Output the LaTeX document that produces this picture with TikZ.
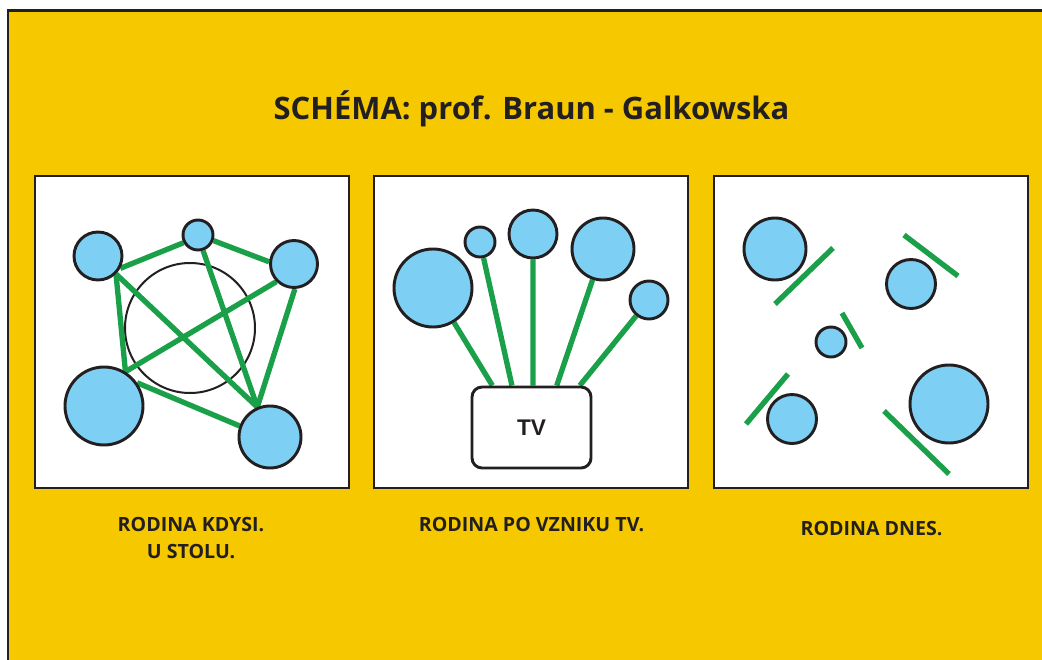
\documentclass[tikz,border=0pt]{standalone}
\usepackage{fontspec}
\setmainfont{Open Sans}
\newfontfamily\arialfont{Liberation Sans}
\definecolor{frameyellow}{HTML}{F5C800}
\definecolor{ballblue}{HTML}{7DD0F4}
\definecolor{linkgreen}{HTML}{1BA04A}
\definecolor{inkdark}{HTML}{231F20}
\pgfdeclarelayer{back}
\pgfdeclarelayer{links}
\pgfsetlayers{back,links,main}
\tikzset{
  ball/.style={circle, draw=inkdark, line width=2.2pt, fill=ballblue, inner sep=0pt, minimum size=#1*1.5pt},
  panel/.style={draw=inkdark, fill=white, line width=2.2pt, inner sep=0pt, minimum width=235.5pt, minimum height=234pt},
  link/.style={draw=linkgreen, line width=4pt},
  caption/.style={font=\bfseries\fontsize{14.7}{20.25}\selectfont, text=inkdark, align=center, inner sep=0pt},
}
\begin{document}
\begin{tikzpicture}[x=0.75pt,y=-0.75pt]
\useasboundingbox (0,0) rectangle (1042,660);
\begin{pgfonlayer}{back}
  \fill[white] (0,0) rectangle (1042,660);
  \draw[fill=frameyellow, draw=inkdark, line width=2.2pt] (8,10.5) rectangle (1060,680);
  \node[panel] (p1) at (192,332) {};
  \node[panel] (p2) at (531,332) {};
  \node[panel] (p3) at (871,332) {};
  \node[circle, draw=inkdark, line width=1.5pt, inner sep=0pt, minimum size=97.5pt] (table) at (190,328) {};
\end{pgfonlayer}

\node[font=\bfseries\fontsize{23.2}{26}\selectfont, text=inkdark, anchor=base, inner sep=0pt] (title) at (531.5,119) {SCHÉMA: prof. Braun - Galkowska};

% panel 1: family at the table
\node[ball=24] (tl) at (98,256) {};
\node[ball=15] (tm) at (198,235) {};
\node[ball=23.5] (tr) at (294,264) {};
\node[ball=39] (bl) at (104,406) {};
\node[ball=31] (br) at (270,437) {};
\begin{pgfonlayer}{links}
  \draw[link] (tl.-29) -- (tm.208);
  \draw[link] (tm.-20) -- (tr.175);
  \draw[link] (tl.-45) -- (bl.58);
  \draw[link] (tl.-45) -- (br.113);
  \draw[link] (tm.-72) -- (br.113);
  \draw[link] (tr.225) -- (bl.58);
  \draw[link] (tr.-88) -- (br.113);
  \draw[link] (bl.35) -- (br.160);
\end{pgfonlayer}

% panel 2: family and TV
\node[ball=39] (f1) at (433,288) {};
\node[ball=15] (f2) at (480,242) {};
\node[ball=24] (f3) at (533,234) {};
\node[ball=31] (f4) at (603,249) {};
\node[ball=19] (f5) at (649,300) {};
\node[draw=inkdark, line width=2.2pt, fill=white, rounded corners=7.5pt, minimum width=89.25pt, minimum height=60.75pt, font=\arialfont\bfseries\fontsize{17}{20}\selectfont, text=inkdark] (tv) at (531.5,427.5) {TV};
\begin{pgfonlayer}{links}
  \draw[link] (f1) -- (tv.133.6);
  \draw[link] (f2) -- (tv.115.7);
  \draw[link] (f3) -- (tv.88);
  \draw[link] (f4) -- (tv.59.9);
  \draw[link] (f5) -- (tv.41);
\end{pgfonlayer}

% panel 3: family today
\node[ball=31] (d1) at (775,249) {};
\node[ball=24.5] (d2) at (911,284) {};
\node[ball=15] (d3) at (831,342) {};
\node[ball=24.5] (d4) at (792,419) {};
\node[ball=39] (d5) at (949,404) {};
\draw[link] (775,304) -- (833,248);
\draw[link] (904,235) -- (958,276);
\draw[link] (842,313) -- (862,348);
\draw[link] (788,374) -- (746,424);
\draw[link] (884,411) -- (949,474);

% captions
\node[caption, anchor=base] (cap1) at (191,558) {RODINA KDYSI.\\U STOLU.};
\node[caption, anchor=base] (cap2) at (531.5,531) {RODINA PO VZNIKU TV.};
\node[caption, anchor=base] (cap3) at (871.5,535) {RODINA DNES.};
\end{tikzpicture}
\end{document}
